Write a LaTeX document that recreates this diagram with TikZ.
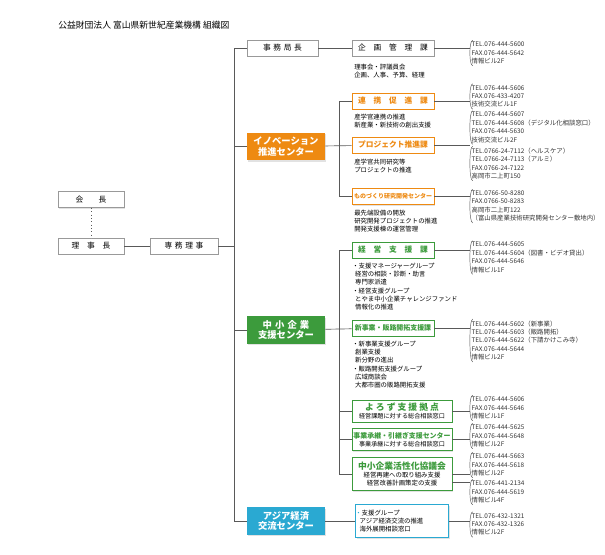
\documentclass[tikz,border=0pt]{standalone}
\usepackage{fontspec}
\setmainfont{Noto Sans CJK JP}
\usetikzlibrary{shadows}
\definecolor{InnoOrange}{HTML}{EE8A12}
\definecolor{SmeGreen}{HTML}{3C9B3C}
\definecolor{AsiaBlue}{HTML}{2AA9D2}
\tikzset{
  box/.style={draw=gray!80, fill=white, line width=0.5pt, inner sep=0pt,
    minimum height=12pt, text width=#1, align=center,
    drop shadow={shadow xshift=1pt, shadow yshift=-1pt, fill=gray!45},
    font=\fontsize{5.8}{6}\selectfont},
  box/.default=50pt,
  center/.style={box=58.5pt, minimum height=20.5pt, draw=none, text=white,
    font=\bfseries\fontsize{7}{8}\selectfont},
  memo/.style={anchor=north west, align=left, inner sep=0pt,
    font=\fontsize{4.8}{6.1}\selectfont},
  tel/.style={anchor=west, align=left, inner sep=1pt,
    font=\fontsize{4.8}{6.3}\selectfont, text=black!80},
  line/.style={gray!70!black, line width=0.5pt}
}
\newcommand{\telbrace}[1]{%
  \draw[line, line width=0.35pt] ([xshift=2pt]#1.north west) .. controls ([xshift=-0.8pt]#1.north west) and ([xshift=-0.8pt]#1.south west) .. ([xshift=2pt]#1.south west);}
\begin{document}
\begin{tikzpicture}[x=0.75pt,y=-0.75pt]
\useasboundingbox (0,0) rectangle (605,554);

\node[anchor=west, inner sep=0pt, font=\fontsize{6.6}{7}\selectfont] (title) at (58,25) {公益財団法人 富山県新世紀産業機構 組織図};

% top of the tree
\node[box=49.5pt] (kaicho) at (91,199.5) {会\qquad 長};
\node[box=49.5pt] (rijicho) at (91,246) {理\quad 事\quad 長};
\node[box=51pt] (senmu) at (184,246) {専\ 務\ 理\ 事};
\draw[line, dotted] (kaicho) -- (rijicho);
\draw[line] (rijicho) -- (senmu);

% first level
\node[box=53pt] (jimu) at (282.5,48) {事\ 務\ 局\ 長};
\node[center, fill=InnoOrange] (inno) at (286,146.5) {イノベーション\\推進センター};
\node[center, fill=SmeGreen] (sme) at (286,330) {中\ 小\ 企\ 業\\支援センター};
\node[center, fill=AsiaBlue] (asia) at (286,521) {アジア経済\\交流センター};
\draw[line] (senmu.east) -- ++(16,0);
\draw[line] (jimu.west) -- ++(-13,0) |- (asia.west);
\draw[line] (inno.west) -- ++(-13,0);
\draw[line] (sme.west) -- ++(-13,0);

% jimukyoku
\node[box=61.5pt] (kikaku) at (393,48) {企\quad 画\quad 管\quad 理\quad 課};
\draw[line] (jimu) -- (kikaku);
\node[memo] (kikakuM) at (354,64) {理事会・評議員会\\企画、人事、予算、経理};
\node[tel] (kikakuT) at (470,53) {TEL.076-444-5600\\FAX.076-444-5642\\情報ビル2F};
\telbrace{kikakuT}
\draw[line] (kikaku.east) -- (kikaku.east -| kikakuT.west);

% innovation
\tikzset{ibox/.style={box=61.5pt, draw=InnoOrange, text=InnoOrange, font=\bfseries\fontsize{5.8}{6}\selectfont}}
\node[ibox] (renkei) at (393,101) {連\quad 携\quad 促\quad 進\quad 課};
\node[ibox] (project) at (393,145) {プロジェクト推進課};
\node[ibox, font=\bfseries\fontsize{4.5}{6}\selectfont] (mono) at (393,196.5) {ものづくり研究開発センター};
\draw[line] (inno) -- (project);
\draw[line] (renkei.west) -- ++(-12,0) |- (mono.west);
\node[memo] (renkeiM) at (354,114) {産学官連携の推進\\新産業・新技術の創出支援};
\node[memo] (projectM) at (354,159) {産学官共同研究等\\プロジェクトの推進};
\node[memo] (monoM) at (354,210) {最先端設備の開放\\研究開発プロジェクトの推進\\開発支援棟の運営管理};
\node[tel] (renkeiT) at (470,96.5) {TEL.076-444-5606\\FAX.076-433-4207\\技術交流ビル1F};
\node[tel] (projectT) at (470,127.5) {TEL.076-444-5607\\TEL.076-444-5608（デジタル化相談窓口）\\FAX.076-444-5630\\技術交流ビル2F};
\node[tel] (takaokaT) at (470,163.5) {TEL.0766-24-7112（ヘルスケア）\\TEL.0766-24-7113（アルミ）\\FAX.0766-24-7122\\高岡市二上町150};
\node[tel] (monoT) at (470,206) {TEL.0766-50-8280\\FAX.0766-50-8283\\高岡市二上町122\\（富山県産業技術研究開発センター敷地内）};
\telbrace{renkeiT} \telbrace{projectT} \telbrace{takaokaT} \telbrace{monoT}
\draw[line] (renkei.east) -- (renkei.east -| renkeiT.west);
\draw[line] (project.east) -- (project.east -| projectT.west);
\draw[line] (mono.east) -- (mono.east -| monoT.west);

% sme
\tikzset{gbox/.style={box=61.5pt, draw=SmeGreen, text=SmeGreen, font=\bfseries\fontsize{5.8}{6}\selectfont}}
\node[gbox] (keiei) at (393,250) {経\quad 営\quad 支\quad 援\quad 課};
\node[gbox, font=\bfseries\fontsize{5.2}{6}\selectfont] (shinji) at (393,328) {新事業・販路開拓支援課};
\node[gbox, text width=75pt, minimum height=16.5pt, font=\fontsize{4.6}{5.6}\selectfont, text=black] (yorozu) at (402,411)
  {{\color{SmeGreen}\bfseries\fontsize{6.6}{7}\selectfont よ\ ろ\ ず\ 支\ 援\ 拠\ 点}\\経営課題に対する総合相談窓口};
\node[gbox, text width=75pt, minimum height=16.5pt, font=\fontsize{4.6}{5.6}\selectfont, text=black] (shokei) at (402,439.5)
  {{\color{SmeGreen}\bfseries\fontsize{5.2}{6}\selectfont 事業承継・引継ぎ支援センター}\\事業承継に対する総合相談窓口};
\node[gbox, text width=75pt, minimum height=25pt, font=\fontsize{4.8}{6.2}\selectfont, text=black] (kassei) at (402,474)
  {{\color{SmeGreen}\bfseries\fontsize{6.6}{7.5}\selectfont 中小企業活性化協議会}\\経営再建への取り組み支援\\経営改善計画策定の支援};
\draw[line] (sme) -- (shinji);
\draw[line] (keiei.west) -- ++(-12,0) |- (kassei.west);
\draw[line] (yorozu.west) -- ++(-12,0);
\draw[line] (shokei.west) -- ++(-12,0);
\node[memo] (keieiM) at (352,263) {・支援マネージャーグループ\\\ \ 経営の相談・診断・助言\\\ \ 専門家派遣\\・経営支援グループ\\\ \ とやま中小企業チャレンジファンド\\\ \ 情報化の推進};
\node[memo] (shinjiM) at (352,341) {・新事業支援グループ\\\ \ 創業支援\\\ \ 新分野の進出\\・販路開拓支援グループ\\\ \ 広域商談会\\\ \ 大都市圏の販路開拓支援};
\node[tel] (keieiT) at (470,257.5) {TEL.076-444-5605\\TEL.076-444-5604（図書・ビデオ貸出）\\FAX.076-444-5646\\情報ビル1F};
\node[tel] (shinjiT) at (470,340.5) {TEL.076-444-5602（新事業）\\TEL.076-444-5603（販路開拓）\\TEL.076-444-5622（下請かけこみ寺）\\FAX.076-444-5644\\情報ビル2F};
\node[tel] (yorozuT) at (470,408) {TEL.076-444-5606\\FAX.076-444-5646\\情報ビル1F};
\node[tel] (shokeiT) at (470,436) {TEL.076-444-5625\\FAX.076-444-5648\\情報ビル2F};
\node[tel] (kasseiT) at (470,465) {TEL.076-444-5663\\FAX.076-444-5618\\情報ビル2F};
\node[tel] (kassei2T) at (470,492) {TEL.076-441-2134\\FAX.076-444-5619\\情報ビル4F};
\telbrace{keieiT} \telbrace{shinjiT} \telbrace{yorozuT} \telbrace{shokeiT} \telbrace{kasseiT} \telbrace{kassei2T}
\draw[line] (keiei.east) -- (keiei.east -| keieiT.west);
\draw[line] (shinji.east) -- (shinji.east -| shinjiT.west);
\draw[line] (yorozu.east) -- (yorozu.east -| yorozuT.west);
\draw[line] (shokei.east) -- (shokei.east -| shokeiT.west);
\draw[line] (kassei.east) -- (kassei.east -| kasseiT.west);
\draw[line] ([yshift=-6.5pt]kassei.east) -- ([yshift=-6.5pt]kassei.east -| kassei2T.west);

% asia
\node[box=75pt, draw=AsiaBlue, minimum height=25pt, align=left, text width=70pt, font=\fontsize{4.8}{6.2}\selectfont] (asiaK) at (402,521)
  {{\color{AsiaBlue}・}支援グループ\\\ \ アジア経済交流の推進\\\ \ 海外展開相談窓口};
\draw[line] (asia) -- (asiaK);
\node[tel] (asiaT) at (470,524.5) {TEL.076-432-1321\\FAX.076-432-1326\\情報ビル2F};
\telbrace{asiaT}
\draw[line] (asiaK.east) -- (asiaK.east -| asiaT.west);
\end{tikzpicture}
\end{document}
